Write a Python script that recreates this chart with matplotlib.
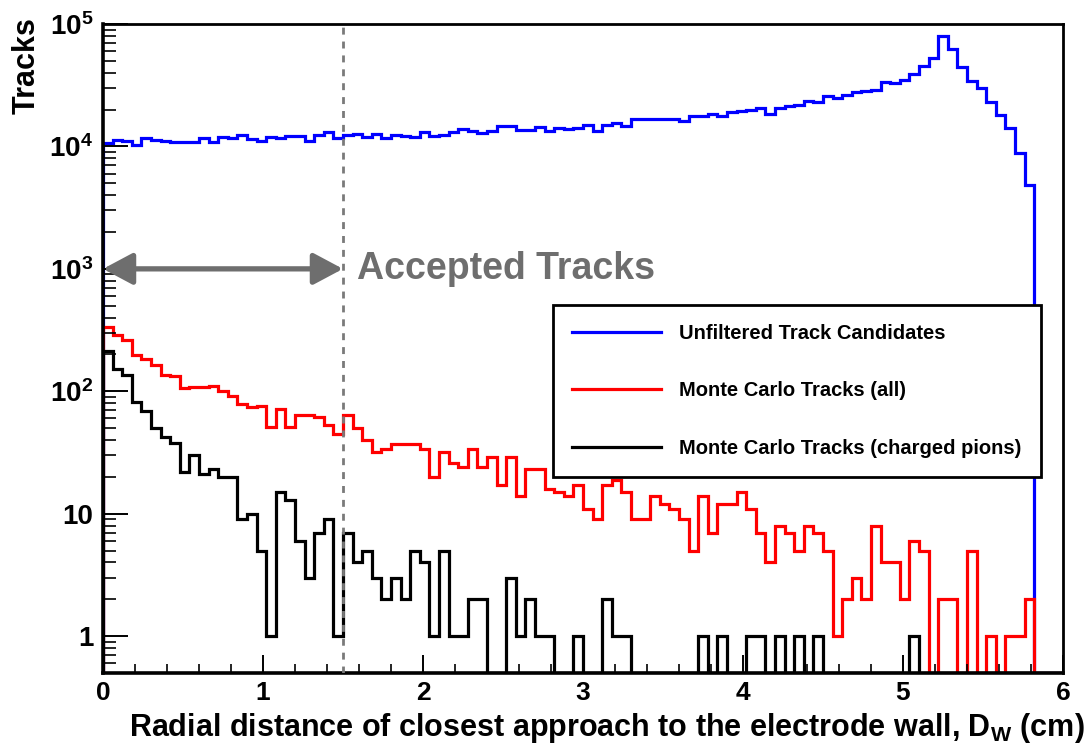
import numpy as np
import matplotlib
matplotlib.use('Agg')
import matplotlib.pyplot as plt
from matplotlib.lines import Line2D

# 100 Bins zu je 0.06 cm
bin_edges = np.linspace(0.0, 6.0, 101)

unfiltered = [10700, 11200, 11100, 10250, 11650, 11350, 11050, 10900, 10900, 10900,
              11800, 10900, 11950, 11650, 12400, 11400, 11100, 11850, 11650, 12150,
              12150, 11100, 12450, 13000, 11650, 12300, 12550, 11950, 12600, 11650,
              12300, 12250, 12000, 13200, 12150, 12500, 13100, 14000, 13400, 12950,
              13300, 14800, 14800, 13750, 13750, 14450, 13400, 14100, 13900, 14200,
              15000, 13400, 15100, 15600, 14650, 16600, 16600, 16600, 16900, 16600,
              16200, 17800, 17800, 18300, 17800, 19000, 19300, 20000, 20500, 18500,
              20700, 21300, 22000, 23400, 22900, 25600, 24800, 26100, 27700, 28300,
              28700, 33500, 33100, 34800, 38700, 45300, 53000, 79500, 62700, 44700,
              34000, 29900, 23000, 18000, 14200, 8900, 4830, 0, 0, 0]

mc_all = [337, 286, 262, 197, 185, 163, 136, 133, 106, 108,
          109, 111, 101, 92, 79, 74, 76, 51, 71, 51,
          64, 64, 62, 53, 45, 64, 50, 40, 32, 34,
          37, 37, 37, 34, 20, 32, 26, 24, 34, 24,
          29, 17, 29, 14, 23, 23, 16, 15, 14, 17,
          11, 9, 17, 19, 15, 9, 9, 14, 12, 11,
          9, 5, 14, 7, 12, 12, 15, 11, 7, 4,
          8, 7, 5, 8, 7, 5, 1, 2, 3, 2,
          8, 4, 4, 2, 6, 5, 0, 2, 2, 0,
          5, 0, 1, 0, 1, 1, 2, 0, 0, 0]

mc_pions = [213, 151, 136, 81, 69, 50, 42, 38, 22, 30,
            21, 23, 20, 20, 9, 10, 5, 1, 15, 13,
            6, 3, 7, 9, 1, 7, 4, 5, 3, 2,
            3, 2, 5, 4, 1, 5, 1, 1, 2, 2,
            0, 0, 3, 1, 2, 1, 1, 0, 0, 1,
            0, 0, 2, 1, 1, 0, 0, 0, 0, 0,
            0, 0, 1, 0, 1, 0, 0, 1, 1, 0,
            1, 0, 1, 0, 1, 0, 0, 0, 0, 0,
            0, 0, 0, 0, 1, 0, 0, 0, 0, 0,
            0, 0, 0, 0, 0, 0, 0, 0, 0, 0]

labels = ['Unfiltered Track Candidates', 'Monte Carlo Tracks (all)',
          'Monte Carlo Tracks (charged pions)']
colors = ['#0000ff', '#ff0000', '#000000']

cut_value = 1.5
y_ticks = [1, 10, 1e2, 1e3, 1e4, 1e5]
y_ticklabels = ['1', '10', r'$10^{2}$', r'$10^{3}$', r'$10^{4}$', r'$10^{5}$']
x_ticks = [0, 1, 2, 3, 4, 5, 6]
y_min, y_max = 0.5, 1e5
gray = '#6e6e6e'

plt.rcParams['font.family'] = ['Liberation Sans', 'DejaVu Sans']
plt.rcParams['font.weight'] = 'bold'
plt.rcParams['mathtext.fontset'] = 'custom'
plt.rcParams['mathtext.rm'] = 'Liberation Sans:bold'
plt.rcParams['mathtext.it'] = 'Liberation Sans:bold'
plt.rcParams['mathtext.bf'] = 'Liberation Sans:bold'
plt.rcParams['mathtext.default'] = 'rm'

fig = plt.figure(figsize=(10.91, 7.46), dpi=100)
ax = fig.add_axes([0.0944, 0.0979, 0.8799, 0.8699])

# Histogramme (leere Bins auf den unteren Rand setzen)
for vals, col in zip([unfiltered, mc_all, mc_pions], colors):
    v = np.maximum(np.asarray(vals, dtype=float), y_min)
    ax.stairs(v, bin_edges, baseline=y_min, color=col, lw=2.3)

ax.set_yscale('log')
ax.set_xlim(0, 6)
ax.set_ylim(y_min, y_max)

# Schnitt markieren
ax.axvline(cut_value, color='#7a7a7a', lw=2.0, dashes=(2.5, 2.5), zorder=3)
ax.annotate('', xy=(0, 1000), xytext=(cut_value, 1000),
            arrowprops=dict(arrowstyle='<|-|>,head_length=0.6,head_width=0.32',
                            color=gray, lw=3.8, mutation_scale=30,
                            shrinkA=0, shrinkB=0), zorder=4)
ax.text(cut_value + 0.09, 1000, 'Accepted Tracks', color=gray, fontsize=27,
        fontweight='bold', ha='left', va='center')

# Achsen
ax.set_xticks(x_ticks)
ax.set_xticks(np.arange(0, 6.01, 0.2), minor=True)
ax.set_yticks(y_ticks)
ax.set_yticklabels(y_ticklabels)
ax.tick_params(axis='x', which='major', direction='in', length=13, width=1.4,
               labelsize=19, pad=6, top=False)
ax.tick_params(axis='x', which='minor', direction='in', length=6.5, width=1.2, top=False)
ax.tick_params(axis='y', which='major', direction='in', length=18, width=1.4,
               labelsize=20, pad=7, right=False)
ax.tick_params(axis='y', which='minor', direction='in', length=9, width=1.2, right=False)
for side in ['left', 'bottom']:
    ax.spines[side].set_linewidth(2.6)
for side in ['top', 'right']:
    ax.spines[side].set_linewidth(2.0)

ax.set_xlabel(r'Radial distance of closest approach to the electrode wall, $\mathrm{D_{W}}$ (cm)',
              fontsize=22, fontweight='bold', loc='right')
ax.xaxis.set_label_coords(1.023, -0.059)
ax.set_ylabel('Tracks', fontsize=22, fontweight='bold', loc='top')
ax.yaxis.set_label_coords(-0.064, 1.01)

# Legende
handles = [Line2D([], [], color=c, lw=2.3) for c in colors]
leg = ax.legend(handles, labels, loc='upper left', bbox_to_anchor=(0.469, 0.567),
                borderaxespad=0, fontsize=14.5, frameon=True, fancybox=False,
                framealpha=1, edgecolor='black', handlelength=4.4,
                handletextpad=0.9, labelspacing=1.9, borderpad=0.95)
leg.get_frame().set_linewidth(2.0)
leg.set_zorder(5)

fig.savefig('out.png', dpi=100)
